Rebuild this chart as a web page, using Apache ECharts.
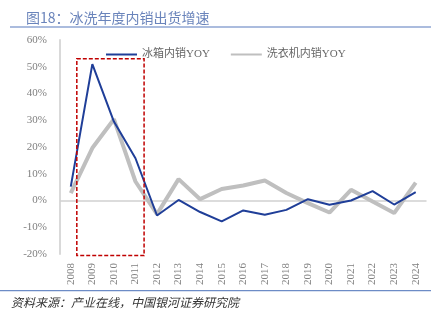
<!DOCTYPE html>
<html><head><meta charset="utf-8">
<script src="https://cdn.jsdelivr.net/npm/echarts@6/dist/echarts.min.js"></script>
<style>html,body{margin:0;padding:0;background:#fff}#c{width:445px;height:325px}</style>
</head><body><div id="c"></div>
<script>
const years = ['2008','2009','2010','2011','2012','2013','2014','2015','2016','2017','2018','2019','2020','2021','2022','2023','2024'];
const fridgeYoY = [5.2, 51.0, 29.5, 15.8, -5.6, 0.2, -4.3, -7.8, -3.7, -5.3, -3.5, 0.5, -1.6, 0.0, 3.5, -1.5, 3.1];
const washerYoY = [2.8, 19.6, 30.4, 7.1, -5.1, 8.0, 0.5, 4.3, 5.6, 7.5, 2.8, -1.0, -4.5, 4.0, -0.4, -4.7, 6.7];
const seriesNames = ['冰箱内销YOY', '洗衣机内销YOY'];
const yTicks = {min: -20, max: 60, interval: 10};
const highlight = {fromYear: '2008', fromOffset: 0.28, toYear: '2011', toOffset: 0.4, top: 53, bottom: -20.6};

const serif = "'Liberation Serif','Noto Sans CJK SC',serif";
const chart = echarts.init(document.getElementById('c'), null, {renderer: 'canvas'});
chart.setOption({
  animation: false,
  title: {
    text: '图18：冰洗年度内销出货增速',
    left: 21, top: 6,
    textStyle: {fontSize: 14, fontWeight: 'normal', color: '#6a84bb', fontFamily: "'Noto Sans CJK SC',sans-serif"}
  },
  legend: {
    left: 100, top: 44,
    itemWidth: 31, itemHeight: 12, itemGap: 20,
    itemStyle: {opacity: 0},
    textStyle: {fontSize: 11, color: '#666', fontFamily: serif},
    data: seriesNames
  },
  grid: {left: 60, right: 18.5, top: 40, bottom: 71},
  xAxis: {
    type: 'category', data: years, boundaryGap: true,
    axisLine: {show: false}, axisTick: {show: false},
    axisLabel: {rotate: 90, fontSize: 11, color: '#808080', margin: 9, fontFamily: serif, interval: 0}
  },
  yAxis: {
    type: 'value', min: yTicks.min, max: yTicks.max, interval: yTicks.interval,
    axisLine: {show: true, lineStyle: {color: '#d9d9d9', width: 2}},
    axisTick: {show: false}, splitLine: {show: false},
    axisLabel: {formatter: '{value}%', fontSize: 11, color: '#808080', margin: 13, fontFamily: serif}
  },
  series: [
    {
      name: seriesNames[0], type: 'line', data: fridgeYoY, symbol: 'none', z: 3,
      lineStyle: {color: '#1f3e98', width: 2}, itemStyle: {color: '#1f3e98'}
    },
    {
      name: seriesNames[1], type: 'line', data: washerYoY, symbol: 'none', z: 2,
      lineStyle: {color: '#bfbfbf', width: 4}, itemStyle: {color: '#bfbfbf'},
      markLine: {
        silent: true, symbol: 'none', label: {show: false},
        lineStyle: {color: '#d0d0d0', width: 1.5, type: 'solid'},
        data: [{yAxis: 0}], z: 1
      }
    }
  ],
  graphic: [
    {id: 'titleLine', type: 'line', shape: {x1: 10, y1: 27, x2: 431, y2: 27}, style: {stroke: '#8fa6d3', lineWidth: 1.5}},
    {id: 'footLine', type: 'line', shape: {x1: 0, y1: 290.7, x2: 431, y2: 290.7}, style: {stroke: '#6d8cc6', lineWidth: 1.2}},
    {id: 'source', type: 'text', left: 11, top: 296, style: {text: '资料来源：产业在线，中国银河证券研究院', fontSize: 12, fontStyle: 'italic', fill: '#333', fontFamily: "'Noto Sans CJK SC',sans-serif"}}
  ]
});
// red dashed highlight box, positioned via the chart's own scales
const step = chart.convertToPixel({xAxisIndex: 0}, years[1]) - chart.convertToPixel({xAxisIndex: 0}, years[0]);
const x0 = chart.convertToPixel({xAxisIndex: 0}, highlight.fromYear) + highlight.fromOffset * step;
const x1 = chart.convertToPixel({xAxisIndex: 0}, highlight.toYear) + highlight.toOffset * step;
const y0 = chart.convertToPixel({yAxisIndex: 0}, highlight.top);
const y1 = chart.convertToPixel({yAxisIndex: 0}, highlight.bottom);
chart.setOption({graphic: [{
  id: 'box', type: 'rect', z: 10,
  shape: {x: x0, y: y0, width: x1 - x0, height: y1 - y0},
  style: {fill: 'none', stroke: '#c00000', lineWidth: 1.5, lineDash: [4, 2]}
}]});
</script></body></html>
